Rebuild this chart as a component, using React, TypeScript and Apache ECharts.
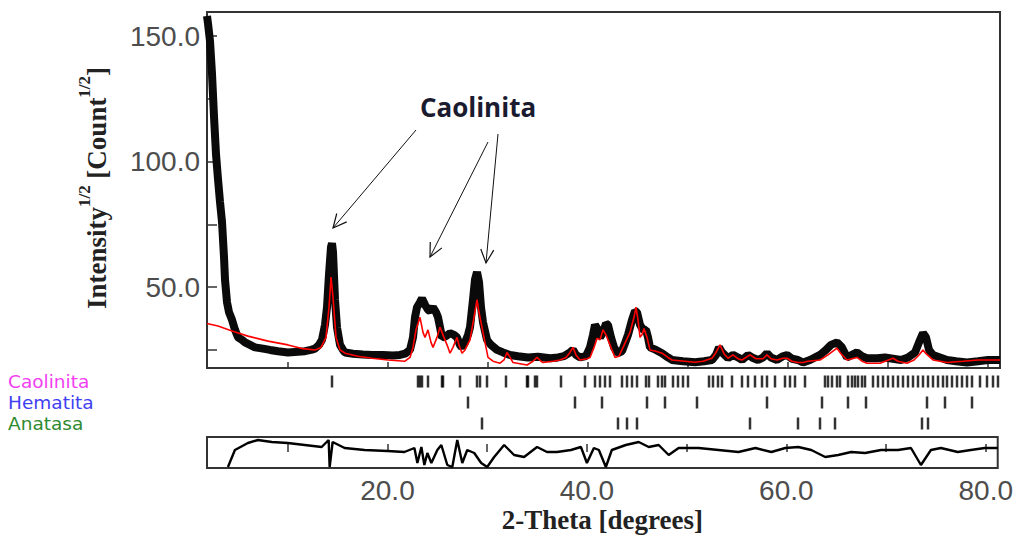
import React, { useEffect, useRef } from "react";
import * as echarts from "echarts";

// ---- Data ----
const obsTheta = [1.9, 2.0, 2.2, 2.4, 2.6, 2.8, 3.0, 3.2, 3.4, 3.6, 3.7, 3.9, 4.1, 4.4, 4.7, 5.0, 5.4, 5.7, 6.2, 6.7, 7.5, 8.2, 9.0, 10.0, 11.0, 11.7, 12.3, 12.7, 13.1, 13.4, 13.7, 13.9, 14.1, 14.3, 14.4, 14.5, 14.7, 14.9, 15.2, 15.5, 15.7, 16.5, 17.5, 18.4, 19.5, 20.5, 21.2, 21.7, 22.2, 22.5, 22.7, 22.9, 23.2, 23.4, 23.7, 24.0, 24.2, 24.5, 24.8, 25.0, 25.2, 25.4, 25.8, 26.2, 26.6, 26.9, 27.2, 27.4, 27.7, 28.0, 28.2, 28.5, 28.7, 28.9, 29.1, 29.3, 29.5, 29.9, 30.3, 30.9, 31.5, 32.2, 33.0, 34.0, 35.0, 36.2, 37.0, 37.6, 38.2, 38.5, 38.8, 39.2, 39.8, 40.2, 40.5, 40.7, 41.0, 41.2, 41.5, 41.8, 42.0, 42.3, 42.6, 43.0, 43.4, 43.7, 44.0, 44.4, 44.7, 44.9, 45.2, 45.5, 45.8, 46.0, 46.2, 46.8, 47.4, 48.0, 48.4, 49.5, 50.7, 51.6, 52.4, 52.8, 53.1, 53.4, 54.0, 54.5, 55.0, 55.4, 56.0, 56.4, 57.0, 57.5, 57.9, 58.3, 58.9, 59.5, 59.9, 60.4, 61.0, 61.5, 62.2, 63.2, 63.8, 64.3, 64.9, 65.4, 65.9, 66.4, 66.9, 67.4, 67.9, 68.9, 69.7, 70.5, 71.3, 72.0, 72.7, 73.1, 73.5, 73.8, 74.1, 74.5, 75.2, 75.9, 76.8, 77.9, 79.0, 80.0, 81.2];
const obsIntensity = [158, 155, 148, 135, 118, 103, 93, 84, 76, 62, 53, 44, 40, 37, 33, 30, 29, 28, 27, 26, 25.5, 25, 24.5, 24, 24.3, 24.5, 25, 25.5, 27, 29, 35, 42, 55, 66, 67.5, 64, 45, 34, 27, 25, 24, 23.5, 23.2, 23, 23, 22.8, 23, 23.5, 25, 30, 38, 42, 44, 45.5, 43, 41, 40.5, 42, 40, 38, 34, 30, 30.5, 31.7, 31, 30, 27, 26, 28, 31, 34, 45, 53, 56, 52, 42, 36, 29, 27, 25, 24, 23, 22.5, 22, 22.3, 21.7, 22, 22.5, 24, 25, 23, 22, 22.5, 26, 31, 35, 33, 30, 32, 35.5, 35, 30, 26, 23.7, 24.5, 27.7, 31, 36.9, 40.5, 40, 35, 33, 33, 30, 26, 25, 23.7, 22, 21, 20.5, 20.1, 20.5, 21, 23, 26, 24, 21.7, 23, 22, 21, 23, 22, 21, 22, 23.7, 22, 21, 22.5, 23, 21.5, 21, 20, 21, 23, 25, 27, 28, 26, 22, 23, 24, 22.5, 21.7, 21.7, 22, 21.5, 21, 22, 24, 28, 31.7, 30, 25, 23, 22, 21, 20.5, 20, 20.5, 21, 21];

const calcTheta = [1.9, 3.0, 4.4, 6.0, 8.0, 10.0, 11.5, 12.7, 13.3, 13.8, 14.1, 14.3, 14.5, 14.8, 15.2, 15.7, 17.0, 18.4, 20.0, 21.7, 22.2, 22.5, 22.8, 23.2, 23.5, 23.7, 24.0, 24.3, 24.5, 24.9, 25.2, 25.5, 25.7, 26.0, 26.2, 26.5, 26.9, 27.1, 27.4, 27.7, 28.2, 28.6, 28.9, 29.1, 29.4, 29.7, 30.0, 30.5, 31.2, 31.6, 31.9, 32.2, 32.5, 33.2, 33.9, 34.5, 34.9, 35.3, 35.5, 36.5, 37.2, 37.8, 38.2, 38.5, 38.8, 39.2, 39.9, 40.2, 40.6, 40.9, 41.2, 41.5, 41.8, 42.0, 42.4, 42.7, 43.1, 43.7, 44.2, 44.6, 44.8, 45.0, 45.2, 45.4, 45.6, 45.9, 46.2, 46.8, 47.4, 48.0, 48.4, 50.7, 51.5, 52.4, 52.8, 53.2, 53.6, 54.0, 54.5, 55.0, 55.4, 56.2, 56.8, 57.5, 57.9, 58.3, 58.9, 59.5, 59.9, 60.4, 61.0, 61.5, 62.0, 63.2, 64.0, 64.9, 65.3, 65.9, 66.4, 66.9, 67.4, 67.9, 69.2, 70.5, 71.0, 71.9, 72.6, 73.1, 73.5, 73.8, 74.5, 75.9, 77.5, 79.0, 81.2];
const calcIntensity = [35.5, 34.5, 32.5, 30.5, 28.5, 27, 25.5, 25, 26, 30, 42, 54, 46, 30, 25, 23.7, 22.5, 21.7, 21, 20.5, 22, 26, 33, 38, 32, 30, 33, 28, 26, 30, 34, 31, 29, 26, 23.7, 26, 30, 27, 23.7, 25, 29, 38, 45, 40, 34, 28, 22, 20.5, 19.7, 21, 24, 22, 20, 19.5, 19, 20.5, 22, 20.5, 20, 20.5, 21, 22, 24, 26, 23, 21, 21.5, 22, 26, 29.6, 29, 33, 31, 29, 25, 22, 22.5, 27.7, 32, 38, 42, 37, 30, 31, 33.5, 30, 25, 24.5, 23.7, 22, 21, 20.1, 20.5, 21.7, 24, 27, 23.5, 21.7, 23, 21.5, 21, 23, 21.5, 21.5, 23, 21.5, 21, 21.7, 21.7, 20.5, 20, 20, 20.5, 21, 23, 25.7, 23.5, 21, 21.5, 22, 20.5, 19.7, 19.7, 21.7, 20.5, 19.7, 21, 23, 25, 23.5, 21, 20, 20.5, 21, 21];

const diffTheta = [4.0, 4.7, 6.0, 7.0, 8.4, 10.0, 11.7, 13.4, 14.1, 14.2, 14.5, 15.7, 17.7, 20.0, 21.7, 22.7, 23.0, 23.4, 23.7, 24.0, 24.4, 25.0, 25.4, 26.0, 26.5, 27.0, 27.5, 28.0, 28.7, 29.4, 30.0, 30.7, 31.7, 32.7, 33.7, 35.0, 36.0, 37.0, 38.4, 39.4, 40.0, 40.7, 41.2, 41.9, 42.5, 43.9, 45.2, 46.2, 47.2, 48.2, 49.2, 51.2, 53.2, 55.2, 56.9, 58.5, 59.9, 61.2, 62.5, 63.9, 65.2, 66.5, 67.9, 69.5, 71.2, 72.5, 73.5, 74.5, 75.5, 77.2, 78.5, 79.9, 81.2];
const diffValues = [-15, 2, 9, 12, 10, 9, 7, 5, 12, -15, 10, 4, 2, 1, 0, 4, -11, 5, -13, -1, -11, 2, 7, -13, -15, 12, -11, 2, -1, -11, -15, -5, 7, -3, -5, 5, 0, 0, 2, 5, -11, 4, 2, -15, 2, 7, 10, 5, 7, -3, 4, 4, 2, 0, 4, 0, 4, 5, 2, -5, -3, 0, -1, 2, 2, 4, -13, 2, 4, 0, 2, 4, 4];

const phaseNames = ["Caolinita", "Hematita", "Anatasa"];
const caolinitaPeaks = [14.4, 23.0, 23.2, 23.4, 24.0, 25.4, 25.5, 27.2, 28.9, 29.2, 29.9, 31.8, 33.9, 34.0, 34.7, 34.9, 37.3, 39.7, 40.7, 41.2, 41.7, 42.2, 43.4, 43.9, 44.4, 44.9, 45.8, 46.1, 47.0, 47.4, 47.7, 48.5, 49.0, 49.5, 50.0, 52.1, 52.5, 53.0, 53.4, 54.4, 55.4, 56.0, 56.7, 57.4, 57.9, 58.7, 59.7, 60.2, 60.7, 61.7, 63.7, 64.0, 64.4, 64.9, 65.2, 66.0, 66.4, 66.7, 67.0, 67.4, 67.7, 68.5, 69.0, 69.5, 70.0, 70.5, 71.0, 71.5, 72.0, 72.5, 73.0, 73.5, 74.0, 74.5, 75.0, 75.5, 75.9, 76.4, 76.9, 77.4, 77.9, 78.4, 79.2, 79.9, 80.5, 81.0];
const hematitaPeaks = [28.0, 38.7, 41.4, 45.9, 47.7, 50.9, 57.9, 63.4, 66.0, 67.8, 73.9, 75.7, 78.4];
const anatasaPeaks = [29.4, 43.0, 43.9, 44.9, 56.2, 61.0, 63.2, 64.7, 73.4, 74.0];

const xTicks = [10, 20, 30, 40, 50, 60, 70, 80];
const xLabels = [20, 40, 60, 80];
const yTicks = [25, 50, 75, 100, 125, 150];
const yLabels = [50, 100, 150];

const X_MIN = 1.9;
const X_MAX = 81.2;

const phaseColors = ["#f23ff2", "#3f3ff2", "#2f8a2f"];

function arrow(x1: number, y1: number, x2: number, y2: number) {
  const ang = Math.atan2(y1 - y2, x1 - x2);
  const L = 15;
  const a1 = ang + 0.45;
  const a2 = ang - 0.45;
  return [
    { type: "line", shape: { x1, y1, x2, y2 }, style: { stroke: "#111", lineWidth: 1 } },
    {
      type: "polyline",
      shape: {
        points: [
          [x2 + L * Math.cos(a1), y2 + L * Math.sin(a1)],
          [x2, y2],
          [x2 + L * Math.cos(a2), y2 + L * Math.sin(a2)],
        ],
      },
      style: { stroke: "#111", lineWidth: 1.2, fill: null },
    },
  ];
}

export default function App() {
  const ref = useRef<HTMLDivElement>(null);
  useEffect(() => {
    if (!ref.current) return;
    const chart = echarts.init(ref.current, undefined, { renderer: "svg" });
    const obs = obsTheta.map((t, i) => [t, obsIntensity[i]]);
    const calc = calcTheta.map((t, i) => [t, calcIntensity[i]]);
    const diff = diffTheta.map((t, i) => [t, diffValues[i]]);
    const peakSets = [caolinitaPeaks, hematitaPeaks, anatasaPeaks];
    const labelFont = { fontFamily: "Liberation Sans, Arial, sans-serif", fontSize: 28, color: "#4d4d4d" };
    const phaseFont = { fontSize: 18.5, fontFamily: "DejaVu Sans, sans-serif", lineHeight: 18 };

    chart.setOption({
      animation: false,
      backgroundColor: "#ffffff",
      grid: [
        { left: 207, top: 12, width: 793, height: 356, show: true, borderColor: "#333", borderWidth: 2, backgroundColor: "transparent" },
        { left: 207, top: 371, width: 793, height: 63, show: false },
        { left: 207, top: 437, width: 793, height: 31, show: true, borderColor: "#333", borderWidth: 2, backgroundColor: "transparent" },
      ],
      xAxis: [
        {
          gridIndex: 0, type: "value", min: X_MIN, max: X_MAX,
          axisLine: { show: false },
          axisTick: { inside: true, length: 6, customValues: xTicks, lineStyle: { color: "#333", width: 1.5 } },
          axisLabel: { show: false },
          splitLine: { show: false },
        },
        { gridIndex: 1, type: "value", min: X_MIN, max: X_MAX, show: false },
        {
          gridIndex: 2, type: "value", min: X_MIN, max: X_MAX,
          axisLine: { show: false },
          axisTick: { inside: true, length: 8, customValues: xTicks, lineStyle: { color: "#333", width: 1.5 } },
          axisLabel: { customValues: xLabels, formatter: (v: number) => v.toFixed(1), margin: 8, ...labelFont },
          splitLine: { show: false },
          name: "2-Theta [degrees]",
          nameLocation: "middle",
          nameGap: 38,
          nameTextStyle: { fontFamily: "Liberation Serif, Times New Roman, serif", fontWeight: "bold", fontSize: 27, color: "#222" },
        },
      ],
      yAxis: [
        {
          gridIndex: 0, type: "value", min: 17.8, max: 159.6,
          axisLine: { show: false },
          axisTick: { inside: true, length: 10, customValues: yTicks, lineStyle: { color: "#333", width: 1.5 } },
          axisLabel: { customValues: yLabels, formatter: (v: number) => v.toFixed(1), margin: 7, ...labelFont },
          splitLine: { show: false },
        },
        {
          gridIndex: 1, type: "category", data: phaseNames, inverse: true,
          axisLine: { show: false }, axisTick: { show: false }, splitLine: { show: false },
          axisLabel: {
            margin: 199, align: "left", interval: 0, hideOverlap: false,
            formatter: (v: string) => `{p${phaseNames.indexOf(v)}|${v}}`,
            rich: {
              p0: { color: phaseColors[0], ...phaseFont },
              p1: { color: phaseColors[1], ...phaseFont },
              p2: { color: phaseColors[2], ...phaseFont },
            },
          },
        },
        { gridIndex: 2, type: "value", min: -16, max: 15, show: false },
      ],
      series: [
        {
          name: "Observed", type: "line", xAxisIndex: 0, yAxisIndex: 0, data: obs,
          showSymbol: false, lineStyle: { color: "#0a0a0a", width: 8 }, z: 2,
        },
        {
          name: "Calculated", type: "line", xAxisIndex: 0, yAxisIndex: 0, data: calc,
          showSymbol: false, lineStyle: { color: "#ff0000", width: 1.6 }, z: 3,
        },
        ...peakSets.map((peaks, k) => ({
          name: phaseNames[k], type: "scatter", xAxisIndex: 1, yAxisIndex: 1,
          data: peaks.map((p) => [p, phaseNames[k]]),
          symbol: "rect", symbolSize: [2.5, 12], itemStyle: { color: "#000" },
        })),
        {
          name: "Difference", type: "line", xAxisIndex: 2, yAxisIndex: 2, data: diff,
          showSymbol: false, lineStyle: { color: "#000", width: 2.4 },
        },
      ],
      graphic: [
        {
          type: "text", x: 93, y: 188, rotation: Math.PI / 2,
          style: {
            text: "{m|Intensity}{s|1/2}{m| [Count}{s|1/2}{m|]}",
            align: "center", verticalAlign: "middle",
            rich: {
              m: { fontFamily: "Liberation Serif, Times New Roman, serif", fontWeight: "bold", fontSize: 27, lineHeight: 34, fill: "#222", verticalAlign: "bottom" },
              s: { fontFamily: "Liberation Serif, Times New Roman, serif", fontWeight: "bold", fontSize: 17, lineHeight: 34, fill: "#222", verticalAlign: "top" },
            },
          },
        },
        {
          type: "text", x: 478, y: 107,
          style: { text: "Caolinita", align: "center", verticalAlign: "middle", fontFamily: "Open Sans, sans-serif", fontWeight: "bold", fontSize: 26, fill: "#1b1b30" },
        },
        ...arrow(416, 130, 333, 228),
        ...arrow(488, 142, 430, 257),
        ...arrow(498, 134, 486, 263),
      ],
    });
    return () => chart.dispose();
  }, []);
  return (
    <div
      ref={ref}
      style={{ position: "fixed", left: 0, top: 0, width: 1016, height: 539, background: "#fff" }}
    />
  );
}
